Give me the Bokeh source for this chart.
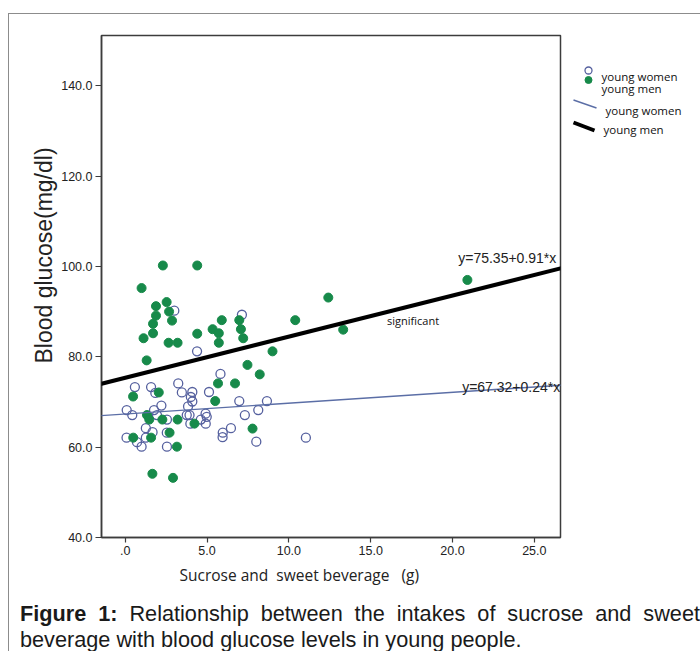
import numpy as np
from bokeh.plotting import figure
from bokeh.models import Range1d, FixedTicker, Label, Slope, Div, Spacer, Title
from bokeh.layouts import column, row
from bokeh.core.properties import value
from bokeh.embed import file_html
from bokeh.resources import INLINE

# ---------------- data ----------------
women_x = [3.00, 7.13, 4.39, 5.82, 0.59, 1.58, 1.84, 3.24, 3.46, 4.10, 4.01, 4.10, 5.12, 6.97, 8.66,
           2.21, 0.09, 0.43, 1.76, 1.94, 3.84, 3.76, 3.93, 4.91, 4.98, 4.62, 2.55, 3.98, 4.92, 7.31,
           8.13, 1.26, 1.67, 2.54, 6.46, 5.96, 5.95, 0.08, 0.72, 1.00, 1.26, 2.55, 8.01, 11.04]
women_y = [90.2, 89.3, 81.2, 76.2, 73.3, 73.3, 72.0, 74.1, 72.1, 72.2, 71.1, 70.1, 72.2, 70.2, 70.2,
           69.2, 68.2, 67.1, 68.2, 67.1, 69.0, 67.1, 67.1, 67.4, 66.7, 66.1, 66.1, 65.2, 65.2, 67.1,
           68.2, 64.2, 63.3, 63.2, 64.2, 63.2, 62.2, 62.1, 61.1, 60.1, 62.1, 60.1, 61.2, 62.1]

men_x = [2.30, 4.40, 1.00, 1.88, 2.53, 1.88, 2.68, 2.86, 1.70, 1.70, 1.12, 2.65, 3.20, 4.40, 5.34,
         5.72, 5.72, 5.90, 6.97, 7.07, 7.21, 10.39, 9.00, 12.41, 13.32, 20.91, 1.31, 7.47, 8.22, 5.67,
         6.71, 2.05, 0.48, 5.50, 1.33, 1.47, 2.27, 3.20, 4.23, 2.71, 0.49, 1.58, 3.16, 7.78, 1.66, 2.92]
men_y = [100.2, 100.2, 95.2, 91.2, 92.1, 89.1, 90.0, 88.0, 87.3, 85.2, 84.1, 83.1, 83.1, 85.1, 86.1,
         85.2, 83.1, 88.1, 88.1, 86.1, 84.1, 88.1, 81.2, 93.1, 86.0, 97.0, 79.2, 78.2, 76.1, 74.1,
         74.1, 72.1, 71.2, 70.2, 67.1, 66.1, 66.1, 66.1, 65.2, 63.2, 62.1, 62.1, 60.1, 64.1, 54.1, 53.2]

women_fit = (67.32, 0.24)   # intercept, slope
men_fit = (75.35, 0.91)

x_ticks = [0, 5, 10, 15, 20, 25]
x_tick_labels = [".0", "5.0", "10.0", "15.0", "20.0", "25.0"]
y_ticks = [40, 60, 80, 100, 120, 140]
y_tick_labels = ["40.0", "60.0", "80.0", "100.0", "120.0", "140.0"]

legend_labels = ["young women", "young men", "young women", "young men"]
x_title = "Sucrose and\u00a0\u00a0sweet beverage\u00a0\u00a0\u00a0(g)"
y_title = "Blood glucose(mg/dl)"
caption_line1 = "Relationship between the intakes of sucrose and sweet"
caption_line2 = "beverage with blood glucose levels in young people."

# ---------------- styles ----------------
GREEN = "#178a4a"
OPEN = "#56619f"
WLINE = "#5b6ea6"
FRAME = "#3c3c3c"

p = figure(width=557, height=582, x_range=Range1d(-1.45, 26.6), y_range=Range1d(40, 151.1),
           output_backend="svg", toolbar_location=None, title=None,
           min_border_left=92, min_border_top=21, min_border_bottom=59, min_border_right=6)
p.xgrid.visible = False
p.ygrid.visible = False
p.outline_line_color = FRAME
p.outline_line_width = 1.5
p.background_fill_color = "white"
p.border_fill_color = "white"

p.xaxis.ticker = FixedTicker(ticks=x_ticks)
p.yaxis.ticker = FixedTicker(ticks=y_ticks)
p.xaxis.major_label_overrides = {t: l for t, l in zip(x_ticks, x_tick_labels)}
p.yaxis.major_label_overrides = {t: l for t, l in zip(y_ticks, y_tick_labels)}
for ax in (p.xaxis[0], p.yaxis[0]):
    ax.axis_line_color = FRAME
    ax.axis_line_width = 1.5
    ax.major_tick_line_color = FRAME
    ax.major_tick_line_width = 1.2
    ax.major_tick_in = 0
    ax.minor_tick_line_color = None
    ax.major_label_text_font = "Liberation Sans"
    ax.major_label_text_font_size = "12.5px"
    ax.major_label_text_color = "#222222"
    ax.major_label_standoff = 3
p.xaxis.major_tick_out = 5
p.yaxis.major_tick_out = 6

p.scatter(women_x, women_y, marker="circle", size=9, fill_color=None,
          line_color=OPEN, line_width=1.3)
p.scatter(men_x, men_y, marker="circle", size=9, fill_color=GREEN, line_color=GREEN)

p.add_layout(Slope(gradient=women_fit[1], y_intercept=women_fit[0], line_color=WLINE, line_width=1.4))
p.add_layout(Slope(gradient=men_fit[1], y_intercept=men_fit[0], line_color="black", line_width=4))

eq_m = "y=%.2f+%.2f*x" % men_fit
eq_w = "y=%.2f+%.2f*x" % women_fit
p.add_layout(Label(x=20.35, y=101.95, text=eq_m, text_font="Liberation Sans", text_font_size="14px",
                   text_color="#222222", text_baseline="middle", text_align="left"))
p.add_layout(Label(x=20.59, y=73.3, text=eq_w, text_font="Liberation Sans", text_font_size="14px",
                   text_color="#222222", text_baseline="middle", text_align="left"))
p.add_layout(Label(x=16.0, y=88.0, text="significant", text_font="Open Sans", text_font_size="11px",
                   text_color="#111111", text_baseline="middle", text_align="left"))

# axis titles (as side-panel titles so they are not clipped)
p.add_layout(Title(text=x_title, align="left", offset=78, vertical_align="top",
                   text_font="Open Sans", text_font_size="15.5px", text_font_style="normal",
                   text_color="#222222", standoff=12), "below")
p.add_layout(Title(text=y_title, align="left", offset=174,
                   text_font="Liberation Sans", text_font_size="23px", text_font_style="normal",
                   text_color="#222222", standoff=4), "left")

# ---------------- legend panel (frame aligned with the main frame: page y 35..537) ----------------
leg = figure(width=133, height=582, x_range=Range1d(566, 699), y_range=Range1d(537, 35),
             output_backend="svg", toolbar_location=None, x_axis_location=None, y_axis_location=None,
             min_border_left=0, min_border_right=0, min_border_top=21, min_border_bottom=59, title=None)
leg.xgrid.visible = False
leg.ygrid.visible = False
leg.outline_line_color = None
leg.border_fill_color = "white"
leg.scatter([588], [70], marker="circle", size=7, fill_color=None, line_color=OPEN, line_width=1.3)
leg.scatter([588], [79.5], marker="circle", size=7, fill_color=GREEN, line_color=GREEN)
leg.segment(x0=[573, 573], y0=[99.5, 122], x1=[596, 594], y1=[107.5, 130],
            line_color=[WLINE, "black"], line_width=[1.5, 4])
leg.text(x=[601, 601, 605, 603], y=[75.5, 88, 110, 129], text=legend_labels,
         text_font=value("Open Sans"), text_font_size="11.5px", text_color="#111111",
         text_baseline="middle", text_align="left")

# ---------------- caption ----------------
cap_html = (
    '<div style="padding-left:6px;width:686px;font-family:\'Liberation Sans\',Arial,sans-serif;'
    'font-size:21.7px;line-height:26px;color:#1a1a1a;">'
    '<div style="text-align:justify;text-align-last:justify;"><b>Figure 1:</b> ' + caption_line1 + '</div>'
    '<div>' + caption_line2 + '</div></div>'
)
cap = Div(text=cap_html, width=691, height=55, styles={"overflow": "hidden"})

inner = column(row(p, leg), cap,
               styles={"border-left": "1px solid #8c8c8c", "border-top": "1px solid #8c8c8c"})
layout = column(Spacer(height=13), row(Spacer(width=8), inner))

open("out.html", "w").write(file_html(layout, INLINE))
